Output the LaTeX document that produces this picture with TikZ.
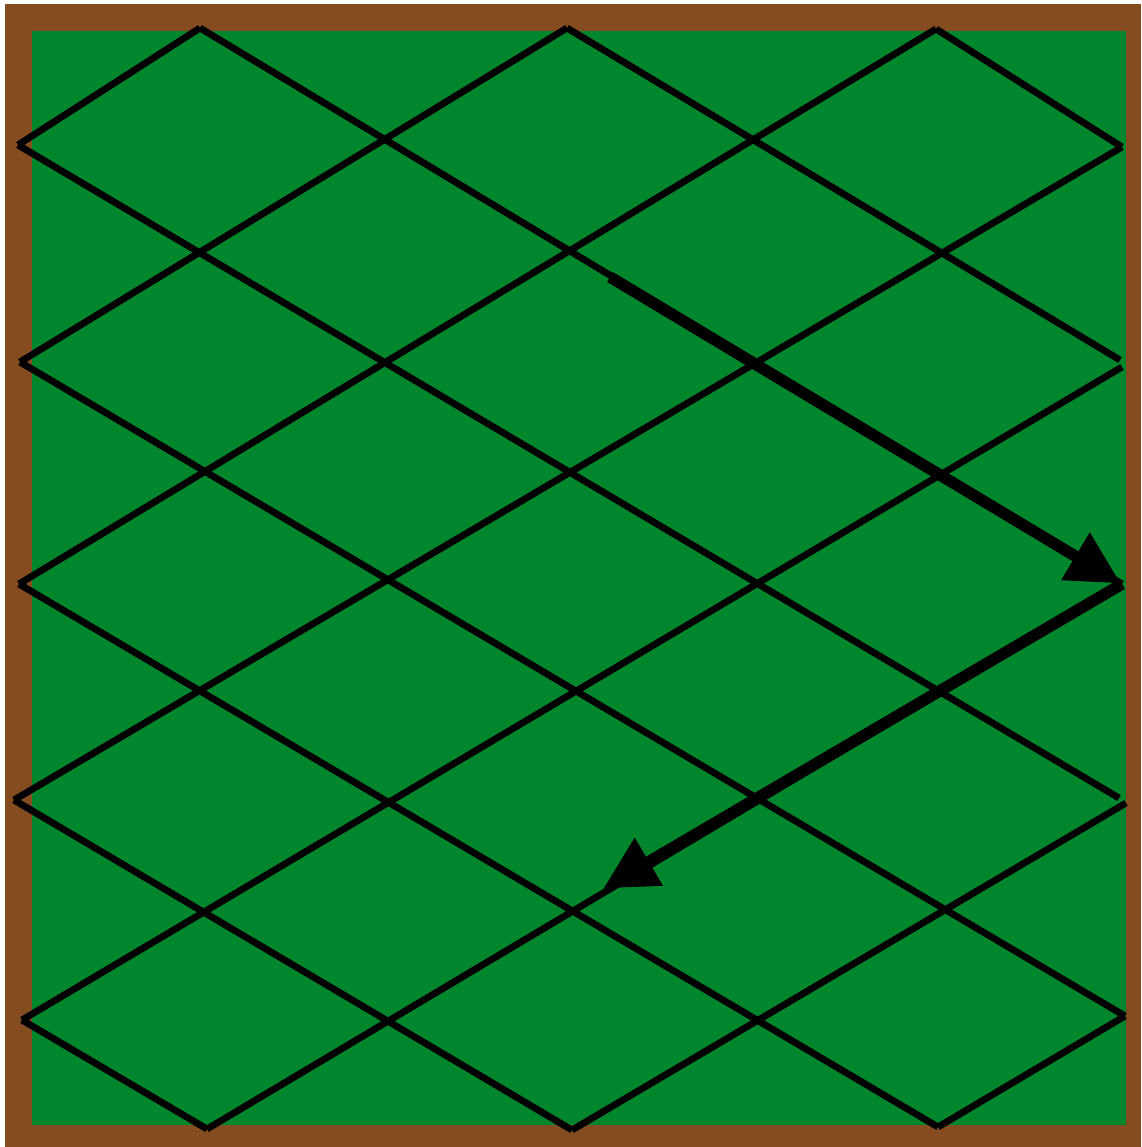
\documentclass[tikz,border=0pt]{standalone}
\usepackage{tikz}
\usetikzlibrary{arrows.meta}
\definecolor{FieldGreen}{RGB}{0,134,44}
\definecolor{FrameBrown}{RGB}{133,76,34}

\begin{document}
\begin{tikzpicture}[x=1pt,y=-1pt,
    >={Triangle[length=52pt,width=56pt,line width=0pt]},
    netline/.style={line width=6.8pt,black},
    bigarrow/.style={->,line width=11.5pt,black}]
      \useasboundingbox (0,0) rectangle (1141,1147);
      \fill[FrameBrown] (5,4) rectangle (1141,1147);
      \fill[FieldGreen] (32,31) rectangle (1126,1125);
      % ends of the net on the frame
      \coordinate (t1) at (200,28);  \coordinate (t2) at (567,28);
      \coordinate (t3) at (936,29);
      \coordinate (b1) at (207,1129); \coordinate (b2) at (572,1130);
      \coordinate (b3) at (938,1127);
      \coordinate (l1) at (18,145);  \coordinate (l2) at (20,362);
      \coordinate (l3) at (19,584);  \coordinate (l4) at (14,800);
      \coordinate (l5) at (22,1020);
      \coordinate (r1) at (1122,147); \coordinate (r2) at (1120,360);
      \coordinate (r2b) at (1122,367); \coordinate (r3) at (1122,584);
      \coordinate (r4) at (1119,798); \coordinate (r4b) at (1126,803);
      \coordinate (r5) at (1125,1016);
      % falling lines
      \draw[netline] (t1) -- (r3);
      \draw[netline] (t2) -- (r2);
      \draw[netline] (t3) -- (r1);
      \draw[netline] (l1) -- (r4);
      \draw[netline] (l2) -- (r5);
      \draw[netline] (l3) -- (b3);
      \draw[netline] (l4) -- (b2);
      \draw[netline] (l5) -- (b1);
      % rising lines
      \draw[netline] (l1) -- (t1);
      \draw[netline] (l2) -- (t2);
      \draw[netline] (l3) -- (t3);
      \draw[netline] (l4) -- (r1);
      \draw[netline] (l5) -- (r2b);
      \draw[netline] (b1) -- (r3);
      \draw[netline] (b2) -- (r4b);
      \draw[netline] (b3) -- (r5);
      % the two moves
      \coordinate (startA) at (610,277);
      \coordinate (tipA) at (1120,583);
      \coordinate (tipB) at (604,888);
      \draw[bigarrow] (startA) -- (tipA);
      \draw[bigarrow] (r3) -- (tipB);
\end{tikzpicture}
\end{document}
